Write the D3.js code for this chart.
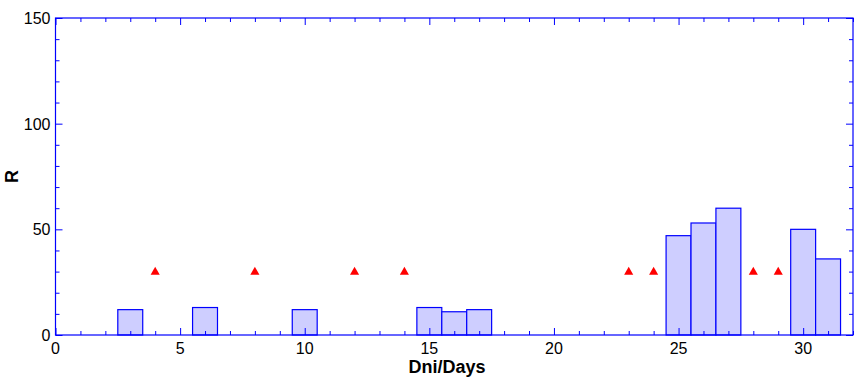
<!DOCTYPE html>
<html><head><meta charset="utf-8">
<script src="https://cdn.jsdelivr.net/npm/d3@7"></script>
<style>body{margin:0;background:#fff}svg{display:block}text{font-family:"Liberation Sans",Arial,sans-serif}</style>
</head><body><svg id="c" width="855" height="380"></svg>
<script>
const barDays = [3, 6, 10, 15, 16, 17, 25, 26, 27, 30, 31];
const barValues = [12, 13, 12, 13, 11, 12, 47, 53, 60, 50, 36];
const markerDays = [4, 8, 12, 14, 23, 24, 28, 29];
const markerValues = [30, 30, 30, 30, 30, 30, 30, 30];
const xTicks = [0, 5, 10, 15, 20, 25, 30];
const yTicks = [0, 50, 100, 150];
const xTitle = "Dni/Days", yTitle = "R";

const svg = d3.select("#c");
const L = 55.5, R = 853, T = 18, B = 335;
const x = d3.scaleLinear().domain([0, 32]).range([L, R]);
const y = d3.scaleLinear().domain([0, 150]).range([B, T]);
const blue = "#0000ff";

// bars
svg.append("g").selectAll("rect").data(barDays).join("rect")
  .attr("x", d => x(d - 0.5)).attr("width", d => x(d + 0.5) - x(d - 0.5))
  .attr("y", (d, i) => y(barValues[i])).attr("height", (d, i) => y(0) - y(barValues[i]))
  .attr("fill", "#ceceff").attr("stroke", blue).attr("stroke-width", 1.2);

// markers
const tri = d3.symbol().type(d3.symbolTriangle).size(36);
svg.append("g").selectAll("path").data(markerDays).join("path")
  .attr("d", tri).attr("transform", (d, i) => `translate(${x(d)},${y(markerValues[i]) + 0.5})`)
  .attr("fill", "#ff0000");

// axes with inward ticks
const xMinor = d3.range(0, 33, 1).filter(v => v % 5 !== 0);
const yMinor = d3.range(0, 151, 10).filter(v => v % 50 !== 0);
function ax(gen, tr, vals, size) {
  const g = svg.append("g").attr("transform", tr)
    .call(gen.tickValues(vals).tickSize(size).tickFormat(""));
  g.select(".domain").remove();
  g.selectAll("line").attr("stroke", blue).attr("stroke-width", 1);
  return g;
}
ax(d3.axisBottom(x), `translate(0,${B})`, xTicks, -7);
ax(d3.axisBottom(x), `translate(0,${B})`, xMinor, -4);
ax(d3.axisTop(x), `translate(0,${T})`, xTicks, -7);
ax(d3.axisTop(x), `translate(0,${T})`, xMinor, -4);
ax(d3.axisLeft(y), `translate(${L},0)`, yTicks, -7);
ax(d3.axisLeft(y), `translate(${L},0)`, yMinor, -4);
ax(d3.axisRight(y), `translate(${R},0)`, yTicks, -7);
ax(d3.axisRight(y), `translate(${R},0)`, yMinor, -4);

svg.append("rect").attr("x", L).attr("y", T).attr("width", R - L).attr("height", B - T)
  .attr("fill", "none").attr("stroke", blue).attr("stroke-width", 1.2);

// tick labels
svg.append("g").selectAll("text").data(xTicks).join("text")
  .attr("x", d => x(d)).attr("y", B + 18.5).attr("text-anchor", "middle")
  .attr("font-size", 16).attr("fill", "#000").text(d => d);
svg.append("g").selectAll("text").data(yTicks).join("text")
  .attr("x", L - 5).attr("y", d => y(d) + 6).attr("text-anchor", "end")
  .attr("font-size", 16).attr("fill", "#000").text(d => d);

svg.append("text").attr("x", 447).attr("y", 373).attr("text-anchor", "middle")
  .attr("font-size", 18).attr("font-weight", "bold").text(xTitle);
svg.append("text").attr("transform", `translate(18,${(T + B) / 2}) rotate(-90)`)
  .attr("text-anchor", "middle").attr("font-size", 18).attr("font-weight", "bold").text(yTitle);
</script></body></html>
